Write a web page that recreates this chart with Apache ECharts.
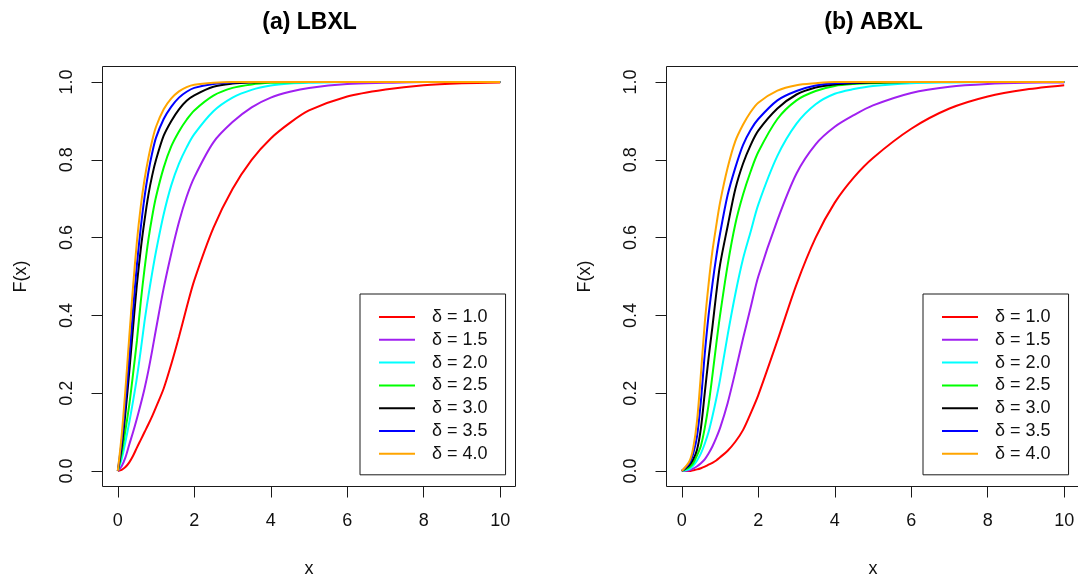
<!DOCTYPE html>
<html><head><meta charset="utf-8">
<script src="https://cdn.jsdelivr.net/npm/echarts@6/dist/echarts.min.js"></script>
<style>html,body{margin:0;padding:0;background:#fff}#c{width:1078px;height:578px}</style>
</head><body><div id="c"></div>
<script>
const FONT = '"Liberation Sans", Arial, Helvetica, sans-serif';
const panelTitles = ['(a) LBXL', '(b) ABXL'];
const seriesNames = ['δ = 1.0', 'δ = 1.5', 'δ = 2.0', 'δ = 2.5', 'δ = 3.0', 'δ = 3.5', 'δ = 4.0'];
const seriesColors = ['#FF0000', '#A020F0', '#00FFFF', '#00FF00', '#000000', '#0000FF', '#FFA500'];
const xTicks = [0, 2, 4, 6, 8, 10];
const yTicks = [0, 0.2, 0.4, 0.6, 0.8, 1.0];

// (a) LBXL
const xsLBXL = [0,0.1,0.2,0.3,0.4,0.5,0.6,0.7,0.8,0.9,1.0,1.2,1.4,1.6,1.8,2.0,2.5,3,3.5,4,4.5,5,6,7,8,9,10];
const lbxl10 = [0,0.003,0.01,0.022,0.039,0.06,0.08,0.1,0.12,0.141,0.164,0.212,0.275,0.345,0.42,0.49,0.625,0.725,0.8,0.855,0.895,0.927,0.963,0.981,0.992,0.997,0.999];
const lbxl15 = [0,0.012,0.035,0.068,0.1,0.135,0.172,0.212,0.258,0.31,0.365,0.47,0.56,0.64,0.705,0.755,0.845,0.897,0.935,0.96,0.975,0.985,0.995,0.998,1,1,1];
const lbxl20 = [0,0.03,0.075,0.125,0.18,0.24,0.31,0.385,0.45,0.51,0.565,0.66,0.735,0.79,0.832,0.866,0.925,0.96,0.98,0.991,0.996,0.998,1,1,1,1,1];
const lbxl25 = [0,0.045,0.105,0.17,0.25,0.335,0.435,0.52,0.595,0.655,0.705,0.78,0.835,0.873,0.903,0.927,0.965,0.985,0.994,0.998,0.999,1,1,1,1,1,1];
const lbxl30 = [0,0.06,0.15,0.255,0.37,0.48,0.57,0.645,0.71,0.76,0.8,0.862,0.9,0.93,0.952,0.966,0.988,0.996,0.999,1,1,1,1,1,1,1,1];
const lbxl35 = [0,0.075,0.175,0.29,0.415,0.53,0.625,0.705,0.768,0.818,0.857,0.905,0.937,0.96,0.975,0.985,0.995,0.999,1,1,1,1,1,1,1,1,1];
const lbxl40 = [0,0.09,0.21,0.345,0.475,0.59,0.68,0.75,0.805,0.85,0.885,0.93,0.958,0.976,0.987,0.993,0.998,1,1,1,1,1,1,1,1,1,1];

// (b) ABXL
const xsABXL = [0,0.2,0.3,0.4,0.5,0.6,0.7,0.8,0.9,1.0,1.2,1.4,1.6,1.8,2.0,2.5,3,3.5,4,4.5,5,6,7,8,9,10];
const abxl10 = [0,0,0.002,0.004,0.007,0.011,0.016,0.021,0.027,0.035,0.052,0.075,0.105,0.148,0.195,0.335,0.48,0.6,0.69,0.755,0.805,0.88,0.932,0.963,0.981,0.992];
const abxl15 = [0,0.002,0.006,0.012,0.02,0.03,0.045,0.063,0.085,0.11,0.175,0.255,0.34,0.42,0.5,0.645,0.765,0.84,0.885,0.915,0.94,0.972,0.988,0.995,0.998,0.999];
const abxl20 = [0,0.005,0.014,0.027,0.045,0.07,0.1,0.14,0.185,0.235,0.35,0.455,0.545,0.615,0.685,0.81,0.893,0.943,0.97,0.982,0.99,0.997,0.999,1,1,1];
const abxl25 = [0,0.01,0.02,0.04,0.065,0.11,0.17,0.245,0.325,0.4,0.53,0.635,0.71,0.77,0.82,0.905,0.953,0.977,0.99,0.995,0.997,1,1,1,1,1];
const abxl30 = [0,0.015,0.03,0.055,0.11,0.2,0.29,0.37,0.455,0.53,0.63,0.725,0.79,0.838,0.875,0.932,0.968,0.986,0.994,0.997,0.999,1,1,1,1,1];
const abxl35 = [0,0.02,0.045,0.09,0.18,0.3,0.4,0.48,0.55,0.61,0.71,0.78,0.838,0.877,0.905,0.953,0.977,0.991,0.997,0.999,1,1,1,1,1,1];
const abxl40 = [0,0.025,0.06,0.13,0.25,0.38,0.48,0.565,0.63,0.69,0.78,0.848,0.89,0.923,0.947,0.978,0.992,0.997,1,1,1,1,1,1,1,1];

const panels = [
  { xs: xsLBXL, ys: [lbxl10, lbxl15, lbxl20, lbxl25, lbxl30, lbxl35, lbxl40], left: 102.5, legendLeft: 360, titleX: 309.5 },
  { xs: xsABXL, ys: [abxl10, abxl15, abxl20, abxl25, abxl30, abxl35, abxl40], left: 666.5, legendLeft: 923, titleX: 873.5 }
];

const txt = { fontSize: 18, color: '#111', fontFamily: FONT };
const grids = [], xAxes = [], yAxes = [], legends = [], series = [], graphics = [];
panels.forEach((p, gi) => {
  grids.push({ left: p.left, top: 66.5, width: 413, height: 420, show: true, borderColor: '#1a1a1a', borderWidth: 1,
    backgroundColor: 'transparent', containLabel: false, outerBoundsMode: 'none' });
  xAxes.push({ type: 'value', gridIndex: gi, min: -0.4, max: 10.4,
    name: 'x', nameLocation: 'middle', nameGap: 74, nameTextStyle: txt,
    axisLine: { show: false, onZero: false }, splitLine: { show: false },
    axisTick: { show: true, inside: false, customValues: xTicks, length: 11, lineStyle: { color: '#1a1a1a', width: 1 } },
    axisLabel: { customValues: xTicks, margin: 26, ...txt } });
  yAxes.push({ type: 'value', gridIndex: gi, min: -0.04, max: 1.04,
    name: 'F(x)', nameLocation: 'middle', nameGap: 72, nameRotate: 90, nameTextStyle: txt,
    axisLine: { show: false, onZero: false }, splitLine: { show: false },
    axisTick: { show: true, inside: false, customValues: yTicks, length: 11, lineStyle: { color: '#1a1a1a', width: 1 } },
    axisLabel: { customValues: yTicks, margin: 26, rotate: 90, formatter: v => v.toFixed(1), ...txt } });
  legends.push({ left: p.legendLeft, top: 294, orient: 'vertical', data: seriesNames,
    icon: 'rect', itemWidth: 36, itemHeight: 2, itemGap: 4.8,
    borderColor: '#1a1a1a', borderWidth: 1, padding: [14, 18, 12, 19],
    selectedMode: false,
    textStyle: { fontSize: 18, lineHeight: 18, color: '#111', fontFamily: FONT, padding: [0, 0, 0, 12] } });
  p.ys.forEach((ys, si) => {
    series.push({ type: 'line', name: seriesNames[si], xAxisIndex: gi, yAxisIndex: gi,
      data: p.xs.map((x, i) => [x, ys[i]]), showSymbol: false, smooth: 0.3,
      color: seriesColors[si], lineStyle: { width: 2, color: seriesColors[si] }, itemStyle: { color: seriesColors[si] },
      clip: true, z: 2 });
  });
  graphics.push({ type: 'text', x: p.titleX, y: 23,
    style: { text: panelTitles[gi], align: 'center', verticalAlign: 'middle',
      font: 'bold 23px ' + FONT, fill: '#000' } });
});

const chart = echarts.init(document.getElementById('c'), null, { renderer: 'canvas' });
chart.setOption({
  animation: false,
  backgroundColor: '#fff',
  grid: grids, xAxis: xAxes, yAxis: yAxes, legend: legends, series: series, graphic: graphics
});
</script></body></html>
